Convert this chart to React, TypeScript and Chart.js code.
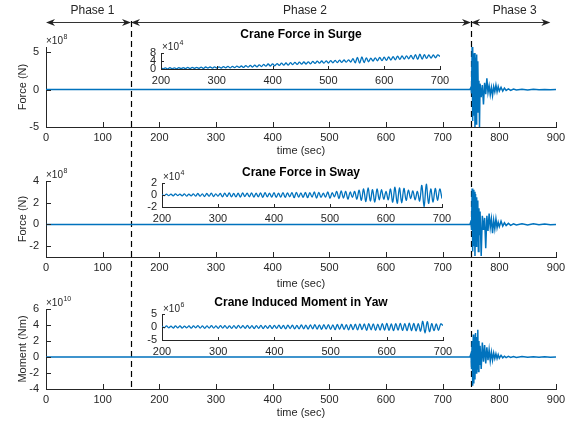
import React, { useEffect, useRef } from "react";
import { Chart, registerables } from "chart.js";

Chart.register(...registerables);

const FIG_W = 579;
const FIG_H = 422;
const FONT = "'Liberation Sans', Arial, Helvetica, sans-serif";
const INK = "#262626";
const LINE = "#0072BD";

// ---------------- data ----------------
const mainXTicks = [0, 100, 200, 300, 400, 500, 600, 700, 800, 900];
const insetXTicks = [200, 300, 400, 500, 600, 700];

const surgeYTicks = [-5, 0, 5];
const swayYTicks = [-2, 0, 2, 4];
const yawYTicks = [-4, -2, 0, 2, 4, 6];
const surgeInsetYTicks = [0, 4, 8];
const swayInsetYTicks = [-2, 0, 2];
const yawInsetYTicks = [-5, 0, 5];

const phaseNames = ["Phase 1", "Phase 2", "Phase 3"];
const phaseBounds = [0, 150, 750, 890];
const phaseLines = [150, 750];

// full-run time (sec) for the main panels
const runTime = [
  0, 748, 750, 751, 752, 753, 754, 755, 756, 757, 758, 759, 760, 761, 762, 763, 764, 765, 766,
  768, 770, 772, 774, 776, 778, 780, 782, 784, 786, 788, 790, 792, 794, 796, 798, 800,
  803, 806, 809, 812, 816, 820, 825, 830, 840, 850, 860, 870, 880, 890, 900,
];
// surge force (x10^8 N)
const surgeForce = [
  0, 0, 0.3, -0.5, 5.7, -4.2, 4.8, -3.5, 4.9, -5.0, 4.3, -4.6, 4.7, -3.0, 3.8, -1.5, 1.2, -5.0, 0.8,
  -1.0, 0.6, -2.0, 0.9, -0.6, 1.5, -0.4, 0.5, -0.7, 0.3, -0.8, 0.4, -0.3, 0.6, -0.3, 0.4, -0.2,
  0.3, -0.2, 0.2, -0.1, 0.1, -0.1, 0.08, -0.05, 0.05, -0.04, 0.04, -0.03, 0.03, -0.02, 0,
];
// sway force (x10^8 N)
const swayForce = [
  0, 0, 0.3, -0.5, 3.3, -2.5, 3.2, -2.0, 3.0, -2.9, 2.8, -2.0, 2.5, -1.5, 2.2, -2.5, 1.5, -1.0, 1.2,
  -2.9, 0.8, -0.5, 0.6, -2.2, 0.8, -0.6, 1.0, -0.3, 0.5, -0.8, 0.4, -0.4, 0.5, -0.3, 0.2, -0.2,
  0.3, -0.15, 0.15, -0.1, 0.1, -0.08, 0.06, -0.05, 0.05, -0.05, 0.05, -0.04, 0.04, -0.03, 0,
];
// yaw moment (x10^10 Nm)
const yawMoment = [
  0, 0, 0.4, -1.5, 2.0, -3.6, 2.8, -3.3, 2.5, -2.8, 3.0, -2.0, 2.5, -1.5, 3.4, -1.8, 2.0, -1.0, 1.4,
  -1.5, 1.8, -0.6, 1.5, -0.8, 1.2, -0.4, 0.9, -0.5, 0.6, -0.4, 0.5, -0.2, 0.4, -0.2, 0.3, -0.15,
  0.2, -0.1, 0.1, -0.08, 0.08, -0.06, 0.06, -0.05, 0.05, -0.04, 0.04, -0.03, 0.03, -0.02, 0,
];

// inset samples: t = 200, 204, ..., 700 sec
const insetStart = 200;
const insetStep = 4;
// surge (x10^4 N)
const surgeInset = [
  0.6, 0.1, 0.6, 0.0, 0.7, 0.1, 0.6, 0.1, 0.7, 0.2,
  0.7, 0.2, 0.8, 0.2, 0.8, 0.3, 0.8, 0.3, 0.9, 0.3,
  1.0, 0.4, 1.0, 0.4, 1.1, 0.5, 1.1, 0.5, 1.2, 0.6,
  1.3, 0.6, 1.3, 0.7, 1.4, 0.8, 1.5, 0.8, 1.7, 0.9,
  1.8, 1.0, 1.9, 1.1, 2.1, 1.2, 2.3, 1.4, 2.5, 1.5,
  2.6, 1.6, 2.7, 1.8, 2.9, 1.9, 3.0, 2.0, 3.2, 2.2,
  3.3, 2.3, 3.4, 2.4, 3.5, 2.5, 3.6, 2.6, 3.8, 2.8,
  3.9, 2.9, 4.0, 2.9, 4.1, 3.0, 4.2, 3.1, 4.3, 3.2,
  4.4, 3.3, 4.5, 3.4, 4.6, 3.5, 5.2, 3.1, 5.8, 2.9,
  6.0, 3.2, 5.6, 3.6, 5.4, 4.0, 5.6, 4.1, 5.8, 4.2,
  5.9, 4.3, 6.0, 4.5, 6.2, 4.6, 6.4, 4.8, 6.5, 5.0,
  6.6, 5.1, 6.8, 5.0, 7.2, 4.8, 7.4, 4.9, 7.2, 5.3,
  7.0, 5.5, 7.0, 5.6, 7.1, 6.2,
];
// sway (x10^4 N)
const swayInset = [
  0.1, -0.1, 0.15, -0.1, 0.15, -0.15, 0.2, -0.1, 0.15, -0.15,
  0.2, -0.2, 0.15, -0.15, 0.2, -0.2, 0.25, -0.2, 0.2, -0.25,
  0.25, -0.2, 0.3, -0.25, 0.2, -0.2, 0.25, -0.3, 0.3, -0.25,
  0.35, -0.3, 0.25, -0.3, 0.3, -0.35, 0.35, -0.25, 0.3, -0.3,
  0.35, -0.35, 0.3, -0.3, 0.35, -0.4, 0.4, -0.3, 0.3, -0.35,
  0.4, -0.4, 0.3, -0.35, 0.4, -0.4, 0.35, -0.3, 0.4, -0.45,
  0.45, -0.35, 0.35, -0.4, 0.45, -0.45, 0.4, -0.35, 0.5, -0.5,
  0.45, -0.4, 0.3, -0.35, 0.5, -0.55, 0.4, -0.3, 0.6, -0.6,
  0.7, -0.5, 0.6, -0.7, 0.5, -0.4, 0.6, -0.7, 0.8, -0.9,
  1.0, -1.1, 1.2, -1.0, 0.9, -1.2, 1.0, -0.8, 0.9, -0.7,
  0.6, -0.8, 1.0, -1.2, 1.3, -1.4, 1.2, -1.3, 1.1, -0.9,
  0.8, -0.6, 0.7, -0.8, 0.6, -1.0, 1.6, -2.0, 1.8, -1.4,
  1.0, -1.2, 1.1, -0.9, 1.0, -0.6,
];
// yaw (x10^6 Nm)
const yawInset = [
  0.3, -0.3, 0.4, -0.3, 0.3, -0.4, 0.4, -0.3, 0.4, -0.4,
  0.3, -0.3, 0.4, -0.4, 0.4, -0.3, 0.5, -0.4, 0.4, -0.5,
  0.4, -0.4, 0.5, -0.4, 0.4, -0.5, 0.5, -0.4, 0.5, -0.5,
  0.4, -0.5, 0.5, -0.5, 0.6, -0.4, 0.5, -0.5, 0.6, -0.5,
  0.5, -0.6, 0.5, -0.5, 0.6, -0.6, 0.5, -0.5, 0.6, -0.6,
  0.6, -0.5, 0.7, -0.6, 0.6, -0.7, 0.7, -0.6, 0.7, -0.7,
  0.6, -0.7, 0.8, -0.7, 0.7, -0.8, 0.8, -0.7, 0.9, -0.8,
  0.8, -0.9, 0.9, -0.8, 0.9, -0.9, 0.8, -1.0, 1.0, -0.9,
  1.1, -1.0, 0.9, -1.1, 1.0, -1.0, 1.1, -1.1, 1.2, -1.0,
  1.2, -1.3, 1.3, -1.1, 1.2, -1.3, 1.1, -1.2, 1.3, -1.2,
  1.4, -1.3, 1.2, -1.4, 1.3, -1.2, 1.4, -1.3, 1.3, -1.4,
  1.5, -1.4, 1.4, -1.5, 1.3, -1.6, 2.2, -2.3, 2.1, -1.8,
  1.3, -1.4, 1.2, -1.3, 1.2, 0.6,
];

// ---------------- layout ----------------
type Area = { left: number; right: number; top: number; bottom: number };
type Spec = {
  area: Area;
  xMin: number; xMax: number; xTicks: number[];
  yMin: number; yMax: number; yTicks: number[];
  points: { x: number; y: number }[];
  lineWidth: number;
  tension: number;
  tickLen: number;
  xPad: number; yPad: number;
  exponent: { text: string; x: number; y: number };
  title?: { text: string; y: number };
  yLabel?: { text: string; x: number };
  xLabel?: { text: string; y: number };
  figure?: boolean;
};

const pairs = (t: number[], v: number[]) => t.map((x, i) => ({ x, y: v[i] }));
const insetPairs = (v: number[]) => v.map((y, i) => ({ x: insetStart + insetStep * i, y }));

const DASH_TOP = 21;
const DASH_BOTTOM = 389;

const specs: Spec[] = [
  {
    area: { left: 46, right: 556, top: 47, bottom: 127 },
    xMin: 0, xMax: 900, xTicks: mainXTicks, yMin: -5, yMax: 5.7, yTicks: surgeYTicks,
    points: pairs(runTime, surgeForce), lineWidth: 1.5, tension: 0, tickLen: 5, xPad: 4, yPad: 7,
    exponent: { text: "8", x: 46, y: 44 },
    title: { text: "Crane Force in Surge", y: 35 },
    yLabel: { text: "Force (N)", x: 23 },
    xLabel: { text: "time (sec)", y: 151 },
    figure: true,
  },
  {
    area: { left: 46, right: 556, top: 181, bottom: 257 },
    xMin: 0, xMax: 900, xTicks: mainXTicks, yMin: -3, yMax: 4, yTicks: swayYTicks,
    points: pairs(runTime, swayForce), lineWidth: 1.5, tension: 0, tickLen: 5, xPad: 4, yPad: 7,
    exponent: { text: "8", x: 46, y: 178 },
    title: { text: "Crane Force in Sway", y: 173 },
    yLabel: { text: "Force (N)", x: 23 },
    xLabel: { text: "time (sec)", y: 284 },
  },
  {
    area: { left: 46, right: 556, top: 309, bottom: 389 },
    xMin: 0, xMax: 900, xTicks: mainXTicks, yMin: -4, yMax: 6, yTicks: yawYTicks,
    points: pairs(runTime, yawMoment), lineWidth: 1.5, tension: 0, tickLen: 5, xPad: 4, yPad: 7,
    exponent: { text: "10", x: 46, y: 306 },
    title: { text: "Crane Induced Moment in Yaw", y: 303 },
    yLabel: { text: "Moment (Nm)", x: 23 },
    xLabel: { text: "time (sec)", y: 413 },
  },
  {
    area: { left: 161, right: 440, top: 53, bottom: 69 },
    xMin: 200, xMax: 700, xTicks: insetXTicks, yMin: 0, yMax: 8, yTicks: surgeInsetYTicks,
    points: insetPairs(surgeInset), lineWidth: 1.3, tension: 0.35, tickLen: 3, xPad: 5, yPad: 5,
    exponent: { text: "4", x: 162, y: 50 },
  },
  {
    area: { left: 162, right: 442, top: 183, bottom: 207 },
    xMin: 200, xMax: 700, xTicks: insetXTicks, yMin: -2, yMax: 2, yTicks: swayInsetYTicks,
    points: insetPairs(swayInset), lineWidth: 1.3, tension: 0.35, tickLen: 3, xPad: 5, yPad: 5,
    exponent: { text: "4", x: 163, y: 180 },
  },
  {
    area: { left: 162, right: 443, top: 314, bottom: 340 },
    xMin: 200, xMax: 700, xTicks: insetXTicks, yMin: -5, yMax: 5, yTicks: yawInsetYTicks,
    points: insetPairs(yawInset), lineWidth: 1.3, tension: 0.35, tickLen: 3, xPad: 5, yPad: 5,
    exponent: { text: "6", x: 163, y: 312 },
  },
];

const AXIS_W = 20;
const AXIS_H = 20;

function drawArrowHead(ctx: CanvasRenderingContext2D, x: number, y: number, dir: number) {
  const len = 9;
  const half = 3.5;
  ctx.beginPath();
  ctx.moveTo(x, y);
  ctx.lineTo(x - dir * len, y - half);
  ctx.lineTo(x - dir * len * 0.7, y);
  ctx.lineTo(x - dir * len, y + half);
  ctx.closePath();
  ctx.fill();
}

function makeDecor(spec: Spec) {
  return {
    id: "decor",
    beforeDatasetsDraw(chart: any) {
      if (!spec.figure) return;
      const ctx: CanvasRenderingContext2D = chart.ctx;
      const xs = chart.scales.x;
      ctx.save();
      ctx.strokeStyle = "#000";
      ctx.lineWidth = 1.2;
      ctx.setLineDash([6, 4]);
      for (const v of phaseLines) {
        const px = Math.round(xs.getPixelForValue(v)) + 0.5;
        ctx.beginPath();
        ctx.moveTo(px, DASH_TOP);
        ctx.lineTo(px, DASH_BOTTOM);
        ctx.stroke();
      }
      ctx.restore();
    },
    afterDraw(chart: any) {
      const ctx: CanvasRenderingContext2D = chart.ctx;
      const { left, right, top, bottom } = chart.chartArea;
      const xs = chart.scales.x;
      const ys = chart.scales.y;
      ctx.save();
      // inward tick marks
      ctx.strokeStyle = INK;
      ctx.lineWidth = 1;
      ctx.beginPath();
      for (const t of xs.ticks) {
        const px = Math.round(xs.getPixelForValue(t.value)) + 0.5;
        ctx.moveTo(px, bottom);
        ctx.lineTo(px, bottom - spec.tickLen);
      }
      for (const t of ys.ticks) {
        const py = Math.round(ys.getPixelForValue(t.value)) + 0.5;
        ctx.moveTo(left, py);
        ctx.lineTo(left + spec.tickLen, py);
      }
      ctx.stroke();

      ctx.fillStyle = INK;
      // exponent label
      ctx.textAlign = "left";
      ctx.textBaseline = "alphabetic";
      ctx.font = `10px ${FONT}`;
      ctx.fillText("\u00d710", spec.exponent.x, spec.exponent.y);
      const w = ctx.measureText("\u00d710").width;
      ctx.font = `7px ${FONT}`;
      ctx.fillText(spec.exponent.text, spec.exponent.x + w + 0.5, spec.exponent.y - 5);

      const cx = (left + right) / 2;
      if (spec.title) {
        ctx.font = `bold 12px ${FONT}`;
        ctx.textAlign = "center";
        ctx.textBaseline = "middle";
        ctx.fillStyle = "#000";
        ctx.fillText(spec.title.text, cx, spec.title.y);
        ctx.fillStyle = INK;
      }
      if (spec.xLabel) {
        ctx.font = `11px ${FONT}`;
        ctx.textAlign = "center";
        ctx.textBaseline = "middle";
        ctx.fillText(spec.xLabel.text, cx, spec.xLabel.y);
      }
      if (spec.yLabel) {
        ctx.save();
        ctx.translate(spec.yLabel.x, (top + bottom) / 2);
        ctx.rotate(-Math.PI / 2);
        ctx.font = `11px ${FONT}`;
        ctx.textAlign = "center";
        ctx.textBaseline = "middle";
        ctx.fillText(spec.yLabel.text, 0, 0);
        ctx.restore();
      }
      if (spec.figure) {
        // phase arrows
        const ay = 22;
        ctx.strokeStyle = "#333";
        ctx.fillStyle = "#222";
        ctx.lineWidth = 1;
        ctx.setLineDash([]);
        for (let i = 0; i < phaseNames.length; i++) {
          const x1 = xs.getPixelForValue(phaseBounds[i]);
          const x2 = xs.getPixelForValue(phaseBounds[i + 1]);
          ctx.beginPath();
          ctx.moveTo(x1 + 3, ay + 0.5);
          ctx.lineTo(x2 - 3, ay + 0.5);
          ctx.stroke();
          drawArrowHead(ctx, x1, ay + 0.5, -1);
          drawArrowHead(ctx, x2, ay + 0.5, 1);
          ctx.font = `12px ${FONT}`;
          ctx.textAlign = "center";
          ctx.textBaseline = "middle";
          ctx.fillStyle = INK;
          ctx.fillText(phaseNames[i], (x1 + x2) / 2 + 4, 11);
          ctx.fillStyle = "#222";
        }
      }
      ctx.restore();
    },
  };
}

function makeConfig(spec: Spec): any {
  const a = spec.area;
  const tickFont = { family: FONT, size: 11 };
  return {
    type: "line",
    data: {
      datasets: [
        {
          data: spec.points,
          borderColor: LINE,
          borderWidth: spec.lineWidth,
          pointRadius: 0,
          tension: spec.tension,
          fill: false,
        },
      ],
    },
    options: {
      animation: false,
      responsive: false,
      events: [],
      layout: {
        padding: {
          left: a.left - AXIS_W,
          right: FIG_W - a.right,
          top: a.top,
          bottom: FIG_H - a.bottom - AXIS_H,
        },
      },
      plugins: { legend: { display: false }, tooltip: { enabled: false }, title: { display: false } },
      scales: {
        x: {
          type: "linear",
          min: spec.xMin,
          max: spec.xMax,
          afterFit: (s: any) => { s.height = AXIS_H; },
          afterBuildTicks: (s: any) => { s.ticks = spec.xTicks.map((value) => ({ value })); },
          grid: { display: false, drawTicks: false },
          border: { display: true, color: INK, width: 1 },
          ticks: {
            color: INK, font: tickFont, padding: spec.xPad, maxRotation: 0, minRotation: 0,
            autoSkip: false, callback: (v: any) => String(v),
          },
        },
        y: {
          type: "linear",
          min: spec.yMin,
          max: spec.yMax,
          afterFit: (s: any) => { s.width = AXIS_W; },
          afterBuildTicks: (s: any) => { s.ticks = spec.yTicks.map((value) => ({ value })); },
          grid: { display: false, drawTicks: false },
          border: { display: true, color: INK, width: 1 },
          ticks: { color: INK, font: tickFont, padding: spec.yPad, autoSkip: false, callback: (v: any) => String(v) },
        },
      },
    },
    plugins: [makeDecor(spec)],
  };
}

function Panel({ spec }: { spec: Spec }) {
  const ref = useRef<HTMLCanvasElement | null>(null);
  useEffect(() => {
    if (!ref.current) return;
    const chart = new Chart(ref.current, makeConfig(spec));
    return () => chart.destroy();
  }, [spec]);
  return (
    <canvas
      ref={ref}
      width={FIG_W}
      height={FIG_H}
      style={{ position: "absolute", left: 0, top: 0, width: FIG_W, height: FIG_H }}
    />
  );
}

export default function App() {
  useEffect(() => {
    document.body.style.margin = "0";
  }, []);
  return (
    <div style={{ position: "relative", width: FIG_W, height: FIG_H, background: "#fff", overflow: "hidden" }}>
      {specs.map((s, i) => (
        <Panel key={i} spec={s} />
      ))}
    </div>
  );
}
